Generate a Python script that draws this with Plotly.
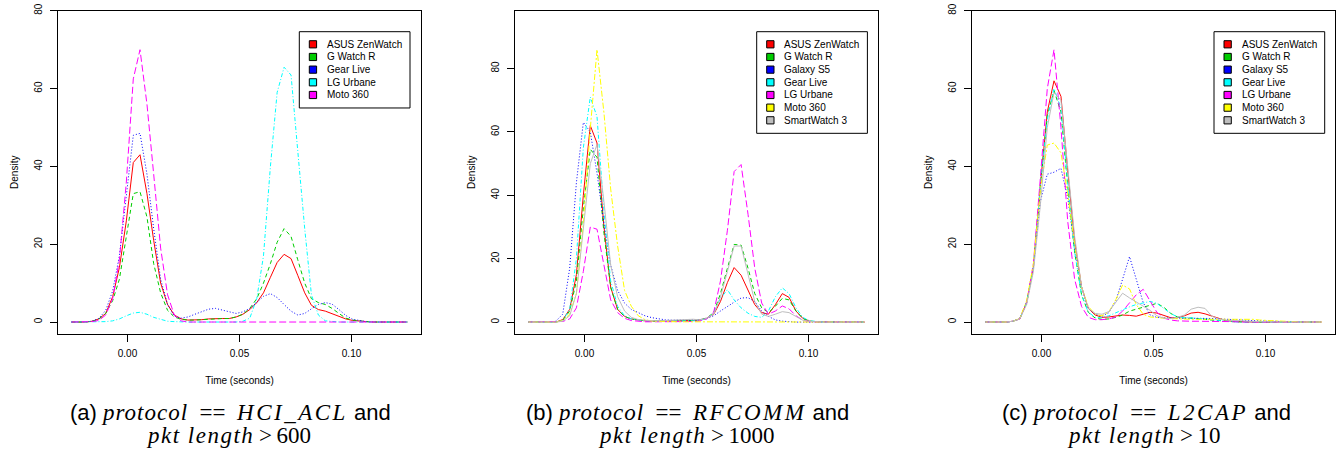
import plotly.graph_objects as go

W, H = 1343, 452
OFF = 0  # page body margin is removed below, so the figure sits at the window origin

# ---------------- data ----------------
# density evaluation grid (seconds), 50 points from -0.025 to 0.125
time_grid = [-0.0250, -0.0219, -0.0189, -0.0158, -0.0128, -0.0097, -0.0066, -0.0036, -0.0005, 0.0026,
             0.0056, 0.0087, 0.0117, 0.0148, 0.0179, 0.0209, 0.0240, 0.0270, 0.0301, 0.0332,
             0.0362, 0.0393, 0.0423, 0.0454, 0.0485, 0.0515, 0.0546, 0.0577, 0.0607, 0.0638,
             0.0668, 0.0699, 0.0730, 0.0760, 0.0791, 0.0821, 0.0852, 0.0883, 0.0913, 0.0944,
             0.0974, 0.1005, 0.1036, 0.1066, 0.1097, 0.1128, 0.1158, 0.1189, 0.1219, 0.1250]

# (a) HCI_ACL, pkt length > 600
a_names = ["ASUS ZenWatch", "G Watch R", "Gear Live", "LG Urbane", "Moto 360"]
a_asus = [0,0,0,0.2,0.8,2.2,6.5,14,26,41,43,33,21,10,4.5,1.8,0.8,0.5,0.5,0.6,0.8,0.9,0.9,0.9,1.3,2.0,3.2,5.0,7.5,11.5,15.3,17.4,16.3,12,7.5,4.3,3.2,2.8,2.2,1.4,0.8,0.4,0.2,0.1,0,0,0,0,0,0]
a_gwatch = [0,0,0,0.2,0.7,2.2,5.5,11,22,33,33.5,27,15,7.5,3,1.3,0.7,0.5,0.5,0.6,0.8,0.9,0.9,0.9,1.3,2.0,3.5,6,10,15,20.5,24,22,16,10,6,5,4.5,3.5,2.2,1.0,0.5,0.2,0.1,0,0,0,0,0,0]
a_gearlive = [0,0,0,0.2,0.9,3,8,17,32,48,48.5,38,24,11,4.5,1.5,1.0,1.3,2.0,2.7,3.3,3.5,3.1,2.5,2.2,2.6,3.5,5.0,6.6,7.3,6.3,4.5,2.8,1.8,2.2,3.4,4.5,5.0,4.6,3.2,1.7,0.7,0.3,0.1,0,0,0,0,0,0]
a_lgurbane = [0,0,0,0,0,0.1,0.3,0.8,1.6,2.3,2.5,2.0,1.2,0.6,0.2,0.1,0,0,0,0,0,0,0,0,0,0.2,1.0,6,17,40,59,65.5,63.5,44,24,7,1.8,0.3,0.1,0,0,0,0,0,0,0,0,0,0,0]
a_moto = [0,0,0,0.1,0.4,1.8,6,16,36,62.5,70,56,38,19,7,1.8,0.3,0,0,0,0,0,0,0,0,0,0,0,0,0,0,0,0,0,0,0,0,0,0,0,0,0,0,0,0,0,0,0,0,0]

# (b) RFCOMM, pkt length > 1000
b_names = ["ASUS ZenWatch", "G Watch R", "Galaxy S5", "Gear Live", "LG Urbane", "Moto 360", "SmartWatch 3"]
b_asus = [0,0,0,0,0,0.8,4,15,40,62,56.5,30,11,4,1.8,1,0.6,0.4,0.3,0.3,0.3,0.3,0.4,0.4,0.5,0.7,1.2,2.5,6.5,12.5,17.2,14.8,10,5.5,3,2.5,5.5,9,7.8,3.5,1.2,0.3,0.1,0,0,0,0,0,0,0]
b_gwatch = [0,0,0,0,0,0.5,3.5,13,36,54.5,52,28,11,4,1.8,1,0.6,0.4,0.3,0.3,0.3,0.3,0.4,0.4,0.5,0.7,1.3,3,9,17,24.5,24.3,17,9,4.5,3,5,7.5,7,3.5,1.2,0.3,0.1,0,0,0,0,0,0,0]
b_galaxy = [0,0,0,0,0.3,2.5,17,44,63,60,47,31,18,10,6,4,3,2,1.4,1.0,0.7,0.6,0.6,0.6,0.6,0.8,1.2,2,3.5,5,6.3,7.6,7.7,6.5,3.5,1.8,0.7,0.3,0.1,0,0,0,0,0,0,0,0,0,0,0]
b_gearlive = [0,0,0,0,0,0.5,4,20,55,71,64.8,35,13,5,2,1,0.6,0.4,0.3,0.3,0.3,0.3,0.3,0.3,0.4,0.6,1,3,7.5,10.2,7,4.5,2.8,1.8,1.5,3.5,8,10.8,9,4.5,1.5,0.4,0.1,0,0,0,0,0,0,0]
b_lgurbane = [0,0,0,0,0,0.2,1,4.5,16,30,29.3,18,7,3,1.2,0.5,0.2,0.1,0.1,0.1,0.1,0.1,0.1,0.1,0.2,0.4,1,3.2,13,29,47.5,49.7,34,17,6,2.5,3.5,5.1,4.2,2,0.6,0.1,0,0,0,0,0,0,0,0]
b_moto = [0,0,0,0,0,0.5,2.5,9,31,61,86,66,42,24,10,5,2,0.8,0.3,0.2,0.1,0.1,0.1,0.1,0.1,0.1,0.1,0.1,0.1,0.1,0.1,0.1,0.1,0.1,0.1,0.1,0.1,0.1,0.1,0.1,0.1,0.1,0,0,0,0,0,0,0,0]
b_smartwatch = [0,0,0,0,0,0.3,2,9,30,50,56,38,18,8,3.5,1.5,0.8,0.5,0.4,0.4,0.5,0.7,0.9,1.0,0.9,0.7,1.2,2.5,8,16,24,24,15,6.5,2.5,1.8,2.5,3.3,3.0,1.8,0.6,0.2,0,0,0,0,0,0,0,0]

# (c) L2CAP, pkt length > 10
c_names = ["ASUS ZenWatch", "G Watch R", "Galaxy S5", "Gear Live", "LG Urbane", "Moto 360", "SmartWatch 3"]
c_asus = [0,0,0,0,0.2,0.8,5,14,35,54,62,58,39,21,9,3.5,1.8,1.2,1.3,1.6,1.8,1.7,1.5,2.0,2.5,2.3,1.6,1.1,1.1,1.6,2.3,2.5,2.1,1.5,0.8,0.4,0.2,0.1,0,0,0,0,0,0,0,0,0,0,0,0]
c_gwatch = [0,0,0,0,0.2,0.8,5,14,35,53,59.5,54,35,18,7,2.5,1.0,0.7,0.8,1.2,1.8,2.8,3.3,3.8,4.4,4.8,3.8,2.2,1.3,1.0,1.0,0.9,0.7,0.5,0.3,0.2,0.1,0,0,0,0,0,0,0,0,0,0,0,0,0]
c_galaxy = [0,0,0,0,0.2,0.8,5,14,31,38,38.5,39.5,32,19,9,3.5,2.0,1.5,2.4,5.5,11,16.8,11,5,1.8,1.2,1.1,1.0,1.0,1.0,1.0,1.0,1.0,0.9,0.8,0.7,0.6,0.6,0.5,0.4,0.3,0.2,0.2,0.1,0,0,0,0,0,0]
c_gearlive = [0,0,0,0,0.2,0.8,5,14,35,52,60,55,36,18,7,2.5,1.2,1.2,1.6,2.4,3.3,3.9,4.5,5.0,5.3,4.8,3.6,2.2,1.3,1.2,1.1,1.0,0.8,0.6,0.4,0.2,0.1,0,0,0,0,0,0,0,0,0,0,0,0,0]
c_lgurbane = [0,0,0,0,0.2,0.8,5,15,37,60,70,50,26,11,4,1.2,0.6,0.6,0.8,1.3,2.8,4.8,7,8.4,5.5,2.5,1.0,0.5,0.3,0.2,0.2,0.2,0.2,0.2,0.1,0.1,0.1,0,0,0,0,0,0,0,0,0,0,0,0,0]
c_moto = [0,0,0,0,0.2,0.9,5.5,15,34,45.5,46,43.5,33,20,9,4,2,1.6,2.6,5.8,9.5,8.5,4.5,2,1.3,1.1,1.0,0.9,0.8,0.8,0.7,0.7,0.7,0.7,0.7,0.8,0.8,0.8,0.8,0.7,0.5,0.4,0.3,0.2,0.1,0,0,0,0,0]
c_smartwatch = [0,0,0,0,0.2,0.8,4.5,13,30,50,59,57,40,22,9,3.5,2.2,2.0,2.7,5,7.4,6.2,5.2,4.2,3,1.6,1.0,0.9,1.2,1.8,3.3,3.8,3.5,1.5,0.8,0.5,0.4,0.3,0.2,0.2,0.1,0.1,0,0,0,0,0,0,0,0]

x_tickvals = [0.0, 0.05, 0.10]
x_ticktext = ["0.00", "0.05", "0.10"]
y_tickvals = [0, 20, 40, 60, 80]

# caption pieces: label, variable, protocol name, second-line variable, comparison value
captions = [
    ("(a)", "protocol", "HCI_ACL", "pkt length", "600"),
    ("(b)", "protocol", "RFCOMM", "pkt length", "1000"),
    ("(c)", "protocol", "L2CAP", "pkt length", "10"),
]

# ---------------- styles ----------------
palette = ["#FF0000", "#00CD00", "#0000FF", "#00FFFF", "#FF00FF", "#FFFF00", "#BEBEBE"]
dashes = ["solid", "4px,3px", "1px,2px", "1px,2px,4px,2px", "7px,3px", "2px,2px,6px,2px", "solid"]
FONT = "Liberation Sans, Arial, sans-serif"
SERIF = "Liberation Serif"

panels = [
    (a_names, [a_asus, a_gwatch, a_gearlive, a_lgurbane, a_moto], [-3.08, 80.08]),
    (b_names, [b_asus, b_gwatch, b_galaxy, b_gearlive, b_lgurbane, b_moto, b_smartwatch], [-3.75, 98.3]),
    (c_names, [c_asus, c_gwatch, c_galaxy, c_gearlive, c_lgurbane, c_moto, c_smartwatch], [-3.08, 80.08]),
]

# plot-area geometry, in window pixels
plot_left = [58, 515, 972]
plot_w = 363
plot_top, plot_bot = 10.5, 334
legend_left = [299.3, 756.7, 1214.0]
legend_w = 110.7
caption_cx = [230, 688, 1146]


def px(x):
    return (x - OFF) / W


def py(y):
    return 1 - (y - OFF) / H


fig = go.Figure()
shapes, annotations = [], []

for p, (names, series, yr) in enumerate(panels):
    sfx = "" if p == 0 else str(p + 1)
    for i, (nm, vals) in enumerate(zip(names, series)):
        assert len(vals) == len(time_grid), (nm, len(vals))
        fig.add_trace(go.Scatter(
            x=time_grid, y=vals, mode="lines", name=nm, showlegend=False,
            line=dict(color=palette[i], width=1, dash=dashes[i]),
            xaxis="x" + sfx, yaxis="y" + sfx, hoverinfo="x+y+name"))

    ax = dict(domain=[px(plot_left[p]), px(plot_left[p] + plot_w)],
              range=[-0.031, 0.131], tickvals=x_tickvals, ticktext=x_ticktext,
              ticks="outside", ticklen=7, tickwidth=1, tickcolor="black",
              showline=True, mirror=True, linecolor="black", linewidth=1,
              showgrid=False, zeroline=False, ticklabelstandoff=3, automargin=False,
              tickfont=dict(family=FONT, size=10, color="black"),
              title=dict(text="Time (seconds)", font=dict(family=FONT, size=10, color="black"), standoff=18),
              anchor="y" + sfx)
    ay = dict(domain=[py(plot_bot), py(plot_top)], range=yr, tickvals=y_tickvals,
              ticks="outside", ticklen=7, tickwidth=1, tickcolor="black", tickangle=-90,
              showline=True, mirror=True, linecolor="black", linewidth=1,
              showgrid=False, zeroline=False, ticklabelstandoff=4, ticklabeloverflow="allow",
              automargin=False,
              tickfont=dict(family=FONT, size=10, color="black"),
              title=dict(text="Density", font=dict(family=FONT, size=10, color="black"), standoff=12),
              anchor="x" + sfx)
    fig.layout["xaxis" + sfx] = ax
    fig.layout["yaxis" + sfx] = ay

    # legend box (R style: filled squares)
    L = legend_left[p]
    n = len(names)
    top = 31.7
    row = 12.67
    first = 44.3
    bottom = first + (n - 1) * row + 13
    shapes.append(dict(type="rect", xref="paper", yref="paper", x0=px(L), x1=px(L + legend_w),
                       y0=py(bottom), y1=py(top), line=dict(color="black", width=1),
                       fillcolor="white", layer="above"))
    for i, nm in enumerate(names):
        cy = first + i * row
        shapes.append(dict(type="rect", xref="paper", yref="paper", x0=px(L + 10), x1=px(L + 17.3),
                           y0=py(cy + 3.6), y1=py(cy - 3.6), line=dict(color="black", width=1),
                           fillcolor=palette[i], layer="above"))
        annotations.append(dict(xref="paper", yref="paper", x=px(L + 25.7), y=py(cy), text=nm,
                                showarrow=False, xanchor="left", yanchor="middle",
                                font=dict(family=FONT, size=10, color="black")))

    # sub-figure caption (math parts in serif italic)
    lab, var1, proto, var2, val = captions[p]
    m = f"font-family:{SERIF};font-size:23px"
    line1 = (f"{lab} <span style=\"{m};letter-spacing:1px\"><i>{var1}</i></span>"
             f"<span style=\"{m}\">&#8194;==&#8194;</span>"
             f"<span style=\"{m};letter-spacing:2.5px\"><i>{proto}</i></span> and")
    line2 = (f"<span style=\"{m};letter-spacing:1.5px\"><i>{var2}</i></span>"
             f"<span style=\"{m}\">&#8201;&gt;&#8201;{val}</span>")
    annotations.append(dict(xref="paper", yref="paper", x=px(caption_cx[p]), y=py(412), text=line1,
                            showarrow=False, xanchor="center", yanchor="middle",
                            font=dict(family=FONT, size=22, color="black")))
    annotations.append(dict(xref="paper", yref="paper", x=px(caption_cx[p] - 2), y=py(435), text=line2,
                            showarrow=False, xanchor="center", yanchor="middle",
                            font=dict(family=SERIF, size=23, color="black")))

fig.update_layout(width=W, height=H, autosize=False,
                  margin=dict(l=0, r=0, t=0, b=0, autoexpand=False),
                  paper_bgcolor="white", plot_bgcolor="white",
                  shapes=shapes, annotations=annotations, showlegend=False,
                  font=dict(family=FONT, size=10, color="black"))

# remove the browser's default 8px page margin so the 1343x452 figure fills the window exactly
fig.write_html("out.html", config={"displayModeBar": False},
               post_script="document.body.style.margin='0px';")
